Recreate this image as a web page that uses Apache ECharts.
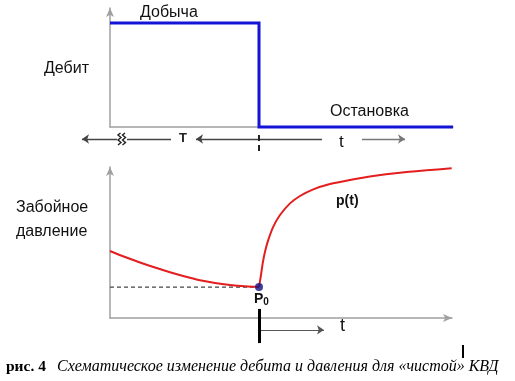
<!DOCTYPE html>
<html>
<head>
<meta charset="utf-8">
<script src="https://cdn.jsdelivr.net/npm/echarts@6/dist/echarts.min.js"></script>
<style>html,body{margin:0;padding:0;background:#fff}#c{width:515px;height:381px}</style>
</head>
<body>
<div id="c"></div>
<script>
// ---- data ----
const shutIn = 14.9;
const rateT = [0, 14.9, 14.9, 34.3];
const rateQ = [0.874, 0.874, 0, 0];
const drawdownT = [0, 1.5, 3, 4.5, 6, 7.5, 9, 10.5, 12, 13.5, 14.9];
const drawdownP = [0.444, 0.404, 0.368, 0.334, 0.303, 0.275, 0.250, 0.232, 0.219, 0.210, 0.205];
const buildupT = [14.9, 15.1, 15.27, 15.5, 15.83, 16.33, 17, 18, 19, 20.33, 22, 24, 26.33, 29, 31.67, 34.17];
const buildupP = [0.205, 0.285, 0.362, 0.439, 0.517, 0.605, 0.682, 0.759, 0.808, 0.852, 0.887, 0.914, 0.940, 0.962, 0.978, 0.991];
const p0 = 0.205;
const labels = {
  rate: 'Дебит', prod: 'Добыча', stop: 'Остановка',
  pres1: 'Забойное', pres2: 'давление', pt: 'p(t)', p0: 'P', p0sub: '0',
  T: 'T', t: 't',
  capBold: 'рис. 4', capIt: 'Схематическое изменение дебита и давления для «чистой» КВД'
};

const axisGray = '#a0a0a0';
const chart = echarts.init(document.getElementById('c'), null, {renderer: 'canvas'});

function arrowLine(coords, xi, color, width, syms, type) {
  return {
    type: 'lines', coordinateSystem: 'cartesian2d', xAxisIndex: xi, yAxisIndex: xi,
    polyline: coords.length > 2, clip: false, silent: true, z: 5,
    symbol: syms || ['none', 'arrow'], symbolSize: 7,
    lineStyle: {color: color, width: width, opacity: 1, type: type || 'solid'},
    data: [{coords: coords}]
  };
}
const hidden = {show: false};
function xAx(gi, max, arrow) {
  return {type: 'value', gridIndex: gi, min: 0, max: max,
    axisLine: {show: true, onZero: false, lineStyle: {color: axisGray, width: 1.5},
      symbol: arrow ? ['none', 'arrow'] : 'none', symbolSize: [6, 9]},
    axisTick: hidden, axisLabel: hidden, splitLine: hidden};
}
function yAx(gi) {
  return {type: 'value', gridIndex: gi, min: 0, max: 1,
    axisLine: {show: true, onZero: false, lineStyle: {color: axisGray, width: 1.5},
      symbol: ['none', 'arrow'], symbolSize: [6, 9]},
    axisTick: hidden, axisLabel: hidden, splitLine: hidden};
}

const yRow = -0.101; // arrow row under top chart
const yRow2 = -0.079; // arrow row under bottom chart

const squiggle = (x) => ({type: 'polyline', silent: true,
  shape: {points: [[x + 1.5, 133], [x - 1, 135], [x + 2, 137.5], [x - 1, 140], [x + 2, 142.5], [x - 1, 145]]},
  style: {stroke: '#222', lineWidth: 1.4, fill: null}});

chart.setOption({
  animation: false,
  grid: [
    {left: 110, top: 8, width: 343, height: 119},
    {left: 110, top: 167, width: 342, height: 151}
  ],
  xAxis: [xAx(0, 34.3, false), xAx(1, 34.2, true)],
  yAxis: [yAx(0), yAx(1)],
  series: [
    // rate
    arrowLine(rateT.map((t, i) => [t, rateQ[i]]), 0, '#1414d8', 3),
    // top time row
    arrowLine([[6.1, yRow], [-2.8, yRow]], 0, '#444', 1.3),
    arrowLine([[shutIn - 0.1, yRow], [8.6, yRow]], 0, '#444', 1.3),
    arrowLine([[shutIn, yRow], [21.2, yRow]], 0, '#444', 1.3, 'none'),
    arrowLine([[25.2, yRow], [29.5, yRow]], 0, '#777', 1.3),
    arrowLine([[shutIn, -0.067], [shutIn, -0.218]], 0, '#222', 2, 'none', [6, 4]),
    // pressure
    {type: 'line', xAxisIndex: 1, yAxisIndex: 1, data: [[0, p0], [shutIn, p0]],
      symbol: 'none', lineStyle: {color: '#444', width: 1.2, type: [4, 3]}, z: 3},
    {type: 'line', xAxisIndex: 1, yAxisIndex: 1, smooth: 0.3,
      data: drawdownT.map((t, i) => [t, drawdownP[i]]),
      symbol: 'none', lineStyle: {color: '#e41e1e', width: 2}, z: 4},
    {type: 'line', xAxisIndex: 1, yAxisIndex: 1, smooth: 0.3,
      data: buildupT.map((t, i) => [t, buildupP[i]]),
      symbol: 'none', lineStyle: {color: '#e41e1e', width: 2}, z: 4},
    {type: 'scatter', xAxisIndex: 1, yAxisIndex: 1, data: [[shutIn, p0]],
      symbolSize: 8, itemStyle: {color: '#101080'}, z: 6},
    arrowLine([[shutIn, 0.060], [shutIn, -0.166]], 1, '#000', 3, 'none'),
    arrowLine([[shutIn + 0.2, yRow2], [21.4, yRow2]], 1, '#555', 1.2)
  ],
  graphic: [
    {type: 'text', left: 140, top: 5, style: {text: labels.prod, font: '16px "Liberation Sans", Arial', fill: '#111'}},
    {type: 'text', left: 44, top: 61, style: {text: labels.rate, font: '16px "Liberation Sans", Arial', fill: '#111'}},
    {type: 'text', left: 330, top: 104, style: {text: labels.stop, font: '16px "Liberation Sans", Arial', fill: '#111'}},
    {type: 'text', left: 179, top: 132, style: {text: labels.T, font: 'bold 13px "Liberation Sans", Arial', fill: '#222'}},
    {type: 'rect', shape: {x: 117, y: 131, width: 10, height: 16}, style: {fill: '#fff'}, z: 10},
    Object.assign(squiggle(119), {z: 11}),
    Object.assign(squiggle(123.5), {z: 11}),
    {type: 'text', left: 339, top: 134, style: {text: labels.t, font: '17px "Liberation Sans", Arial', fill: '#111'}},
    {type: 'text', left: 16, top: 200, style: {text: labels.pres1, font: '16px "Liberation Sans", Arial', fill: '#111'}},
    {type: 'text', left: 16, top: 224, style: {text: labels.pres2, font: '16px "Liberation Sans", Arial', fill: '#111'}},
    {type: 'text', left: 336, top: 194, style: {text: labels.pt, font: 'bold 14px "Liberation Sans", Arial', fill: '#111'}},
    {type: 'text', left: 254, top: 292, style: {
      text: '{a|' + labels.p0 + '}{s|' + labels.p0sub + '}',
      rich: {a: {font: 'bold 14px "Liberation Sans", Arial', fill: '#111'},
             s: {font: 'bold 10px "Liberation Sans", Arial', fill: '#111', padding: [6, 0, 0, 0]}}}},
    {type: 'text', left: 340, top: 317, style: {text: labels.t, font: '18px "Liberation Sans", Arial', fill: '#111'}},
    {type: 'rect', shape: {x: 462, y: 345, width: 2, height: 13}, style: {fill: '#000'}},
    {type: 'text', left: 6, top: 359, style: {text: labels.capBold, font: 'bold 15.5px "Liberation Serif", serif', fill: '#000'}},
    {type: 'text', left: 57, top: 359, style: {text: labels.capIt, font: 'italic 16px "Liberation Serif", serif', fill: '#000'}}
  ]
});
</script>
</body>
</html>
